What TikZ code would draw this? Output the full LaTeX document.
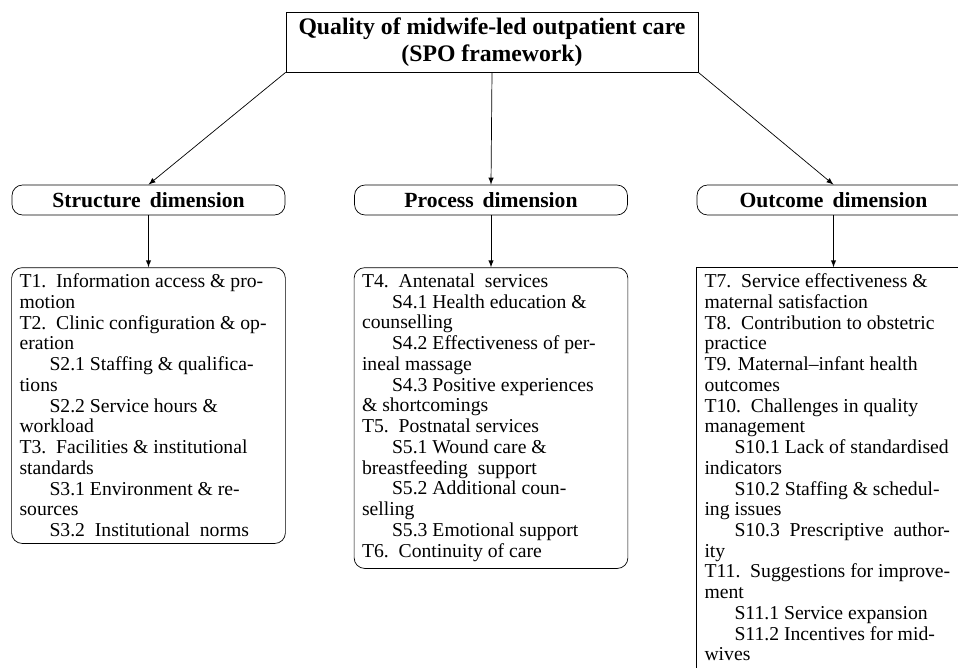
\documentclass[tikz,border=0pt]{standalone}
\usepackage{fontspec}
\setmainfont{Liberation Serif}
\usetikzlibrary{positioning}

\newcommand{\ind}{\hspace*{0.6cm}}
\newcommand{\listtext}[2]{\parbox[t][#1][t]{5.16cm}{\raggedright\fontsize{11.2}{11.8}\selectfont #2}}

\tikzset{
  dimbox/.style={draw, rounded corners=6pt, minimum width=5.46cm, minimum height=0.6cm,
    inner sep=2pt, font=\fontsize{12.3}{13}\selectfont\bfseries},
  listbox/.style={draw, rounded corners=6pt, inner xsep=4.5pt, inner ysep=3.5pt},
}

\begin{document}
\begin{tikzpicture}[
    x=0.02cm, y=-0.02cm,
    node distance=1.04cm,
    >=latex
    ]
    \useasboundingbox (0,0) rectangle (958,667);

    \node [draw, minimum width=8.24cm, minimum height=1.2cm, align=center,
           font=\fontsize{13.5}{15}\selectfont\bfseries] (quality) at (492,42)
          {Quality of midwife-led outpatient care\\(SPO framework)};

    % the three dimensions
    \node [dimbox] (structure) at (148.5,200) {Structure\, dimension};
    \node [dimbox] (process) at (491,200) {Process\, dimension};
    \node [dimbox] (outcome) at (833.5,200) {Outcome\, dimension};

    \node [listbox, below=of structure] (structlist) {\listtext{5.27cm}{%
        T1.\enspace Information access \& pro-\\
        motion\\
        T2.\enspace Clinic configuration \& op-\\
        eration\\
        \ind S2.1 Staffing \& qualifica-\\
        tions\\
        \ind S2.2 Service hours \&\\
        workload\\
        T3.\enspace Facilities \& institutional\\
        standards\\
        \ind S3.1 Environment \& re-\\
        sources\\
        \ind S3.2\enspace Institutional\enspace norms}};

    \node [listbox, below=of process] (proclist) {\listtext{5.77cm}{%
        T4.\enspace Antenatal\enspace services\\
        \ind S4.1 Health education \&\\
        counselling\\
        \ind S4.2 Effectiveness of per-\\
        ineal massage\\
        \ind S4.3 Positive experiences\\
        \& shortcomings\\
        T5.\enspace Postnatal services\\
        \ind S5.1 Wound care \&\\
        breastfeeding\enspace support\\
        \ind S5.2 Additional coun-\\
        selling\\
        \ind S5.3 Emotional support\\
        T6.\enspace Continuity of care}};

    \node [listbox, rounded corners=0pt, below=of outcome] (outclist) {\listtext{8.2cm}{%
        T7.\enspace Service effectiveness \&\\
        maternal satisfaction\\
        T8.\enspace Contribution to obstetric\\
        practice\\
        T9. Maternal--infant health\\
        outcomes\\
        T10.\enspace Challenges in quality\\
        management\\
        \ind S10.1 Lack of standardised\\
        indicators\\
        \ind S10.2 Staffing \& schedul-\\
        ing issues\\
        \ind S10.3\enspace Prescriptive\enspace author-\\
        ity\\
        T11.\enspace Suggestions for improve-\\
        ment\\
        \ind S11.1 Service expansion\\
        \ind S11.2 Incentives for mid-\\
        wives}};

    \draw[->] (quality.south west) -- (structure.north);
    \draw[->] (quality.south) -- (process.north);
    \draw[->] (quality.south east) -- (outcome.north);
    \draw[->] (structure) -- (structlist);
    \draw[->] (process) -- (proclist);
    \draw[->] (outcome) -- (outclist);
\end{tikzpicture}
\end{document}
